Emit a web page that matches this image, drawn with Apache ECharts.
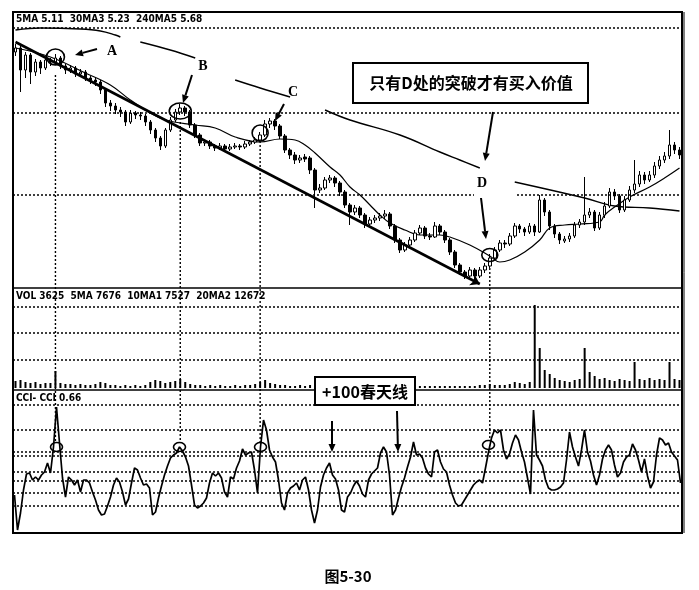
<!DOCTYPE html>
<html><head><meta charset="utf-8">
<script src="https://cdn.jsdelivr.net/npm/echarts/dist/echarts.min.js"></script>
<style>html,body{margin:0;padding:0;background:#fff}#c{width:699px;height:590px}</style>
</head><body><div id="c"></div><script>
// ---------- DATA ----------
const categories = Array.from({length: 134}, (_, i) => 'd' + (i + 1));
const cciCategories = Array.from({length: 223}, (_, i) => 'c' + (i + 1));
// price candles [open, close, low, high]
const ohlc = [
[236,240,232,244],[240,218,196,242],[218,233,210,236],[233,216,204,235],[216,226,212,229],
[226,220,214,228],[220,228,218,231],[228,226,222,230],[226,230,223,234],[230,222,219,232],
[222,218,214,224],[218,220,215,223],[220,214,211,222],[214,216,212,219],[216,210,207,218],
[210,208,204,212],[208,206,202,211],[206,198,194,208],[198,185,181,200],[185,182,177,188],
[182,178,174,185],[178,176,171,181],[176,166,162,178],[166,175,164,178],[175,173,169,177],
[173,172,168,176],[172,166,162,174],[166,158,154,168],[158,150,146,160],[150,142,138,152],
[142,158,140,160],[158,168,156,171],[168,176,166,179],[176,180,173,184],[180,176,172,182],
[176,163,160,178],[163,153,150,165],[153,145,142,155],[145,146,142,149],[146,142,139,148],
[142,140,137,144],[140,142,138,145],[142,139,136,144],[139,141,137,144],[141,142,139,145],
[142,141,138,144],[141,144,139,147],[144,146,142,148],[146,148,144,151],[148,153,146,156],
[153,164,151,168],[164,167,160,170],[167,162,158,169],[162,152,149,164],[152,138,135,154],
[138,133,129,140],[133,128,124,136],[128,130,125,133],[131,129,126,134],[130,118,114,132],
[118,98,80,120],[98,100,95,104],[100,108,98,111],[108,110,105,113],[110,105,101,112],
[105,96,92,107],[96,83,80,98],[83,76,63,85],[76,80,73,83],[80,73,70,82],
[73,64,60,75],[64,68,62,71],[68,70,65,73],[70,72,67,75],[72,74,69,78],
[74,62,59,76],[62,48,45,64],[48,38,35,50],[38,43,36,46],[43,48,41,51],
[48,55,46,58],[55,60,53,63],[60,52,49,62],[52,51,48,55],[51,62,50,66],
[62,56,53,64],[56,48,45,58],[48,36,33,50],[36,23,20,38],[23,16,13,25],
[16,12,9,18],[12,18,10,21],[18,12,9,20],[12,18,10,21],[18,22,15,25],
[22,30,20,34],[30,38,28,41],[38,45,36,48],[45,44,40,48],[44,52,42,55],
[52,62,50,65],[62,59,55,64],[59,56,52,61],[56,62,54,65],[62,56,52,64],
[56,88,55,93],[88,76,72,90],[76,62,58,78],[62,54,50,64],[54,48,44,56],
[47,49,45,52],[49,52,46,55],[52,63,50,66],[63,66,60,69],[66,73,63,111],
[73,76,70,80],[76,60,57,78],[60,73,58,76],[73,82,70,86],[82,96,80,100],
[96,92,88,99],[92,78,75,94],[78,88,76,92],[88,98,86,102],[98,104,95,128],
[104,113,101,117],[113,108,104,116],[108,113,106,117],[113,122,110,126],[122,128,119,132],
[128,132,125,136],[132,143,129,158],[143,138,134,146],[138,133,129,141]
];
// 30-day MA, read at selected bars [barIndex, value]
const ma30 = [[0,240],[7,231],[14,215],[19,203],[23,188],[27,175],[30,168],[36,163],[40,160],[44,151],
[49,146],[53,149],[56,148],[58,143],[60,135],[63,121],[65,113],[67,101],[69,93],[71,83],[73,73],
[75,65],[78,58],[81,53],[85,53],[87,51],[91,43],[95,32],[97,26],[99,28],[102,36],[105,48],[107,60],
[110,63],[113,64],[117,66],[118,73],[120,81],[123,91],[127,101],[130,110],[133,120]];
// 240-day MA, visible segments
const ma240Segments = [
 [[0,258],[5,260],[13,259],[17,257],[20,253],[21,251]],
 [[25,246],[31,238],[36,230]],
 [[44,208],[49,200],[55,191]],
 [[62,178],[67,168],[77,153],[85,136],[89,128],[93,120]],
 [[100,106],[114,90],[120,82],[127,80],[133,77]]
];
const trendLine = [[0,246],[93,4]];
const volume = [7,8,6,5,6,4,5,5,17,5,4,4,3,4,3,3,4,6,5,3,3,2,3,2,3,2,3,6,8,7,
5,6,7,9,6,4,3,3,2,3,2,3,2,2,3,2,3,3,4,6,8,5,4,3,3,2,2,3,2,3,
2,2,2,2,2,2,2,2,2,2,2,2,2,2,2,2,2,2,2,2,2,2,2,2,2,2,2,2,2,2,
2,2,2,3,3,4,3,3,3,4,6,5,4,6,83,40,18,14,10,8,7,6,8,9,40,16,12,9,10,8,
7,9,8,7,26,9,8,10,8,9,8,26,9,8];
const cci = [-14,-49,-32,-9,7,8,1,4,1,6,9,18,8,34,74,38,3,-16,4,1,
-4,1,-11,1,1,-2,-11,-19,-29,-34,-33,-25,-16,-4,3,-1,-11,-24,-18,-2,
13,11,3,-4,-3,-7,-34,-31,-17,-5,6,15,23,26,28,34,30,24,15,-4,
-24,-27,-25,-22,-17,-2,8,5,8,3,-11,-16,4,2,13,20,32,26,28,29,
11,-12,34,61,51,31,24,19,1,-22,-29,-12,-7,-5,-2,-9,1,4,-9,-29,
-42,-29,-6,6,13,18,6,2,-9,-29,-31,-16,-12,-5,0,-5,-13,-16,1,7,
10,13,28,34,29,6,-34,-29,-17,-6,3,14,24,39,26,27,23,13,7,4,
29,31,19,12,9,-4,-14,-22,-25,-24,-19,-14,-9,-4,-1,1,-2,13,29,43,
51,48,51,31,22,27,38,46,41,29,19,3,-13,71,26,21,15,1,-7,-9,
-9,-8,-6,-2,21,49,34,24,15,31,51,29,20,6,-4,6,22,31,36,31,
16,4,8,19,24,26,37,31,21,9,22,5,-7,-1,26,43,41,36,38,29,
25,21,-2];
const priceLevels = [260, 175, 93];
const volLevels = [81, 55, 28];
const cciLevels = [76, 51, 29, 25, 9, 0, -12, -25];
const headPrice = '5MA 5.11  30MA3 5.23  240MA5 5.68';
const headVol = 'VOL 3625  5MA 7676  10MA1 7527  20MA2 12672';
const headCci = 'CCI- CCI 0.66';
const noteMain = '只有D处的突破才有买入价值';
const noteCci = '+100春天线';
const caption = '图5-30';

// ---------- CHART ----------
const chart = echarts.init(document.getElementById('c'), null, {renderer: 'canvas'});
const dotted = {type: [2, 2], width: 1.5, color: '#000'};
const mlBase = {silent: true, symbol: ['none', 'none'], label: {show: false}, lineStyle: dotted, animation: false};
const series = [
 {type: 'candlestick', xAxisIndex: 0, yAxisIndex: 0, data: ohlc, barWidth: 3,
  itemStyle: {color: '#fff', color0: '#000', borderColor: '#000', borderColor0: '#000', borderWidth: 1},
  markLine: Object.assign({}, mlBase, {data: priceLevels.map(v => ({yAxis: v})).concat([
    [{coord: trendLine[0], symbol: 'none', lineStyle: {type: 'solid', width: 2.6, color: '#000'}},
     {coord: trendLine[1], symbol: 'arrow', symbolSize: 9}]
  ])}), z: 3},
 {type: 'line', xAxisIndex: 0, yAxisIndex: 0, data: ma30, smooth: 0.4, showSymbol: false,
  lineStyle: {color: '#000', width: 1.2}, z: 2},
];
ma240Segments.forEach(seg => series.push({type: 'line', xAxisIndex: 0, yAxisIndex: 0, data: seg, smooth: 0.4,
  showSymbol: false, lineStyle: {color: '#000', width: 1.4}, z: 2}));
series.push({type: 'bar', xAxisIndex: 1, yAxisIndex: 1, data: volume, barWidth: 2,
  itemStyle: {color: '#000'}, markLine: Object.assign({}, mlBase, {data: volLevels.map(v => ({yAxis: v}))})});
series.push({type: 'line', xAxisIndex: 2, yAxisIndex: 2, data: cci, showSymbol: false,
  lineStyle: {color: '#000', width: 1.7}, markLine: Object.assign({}, mlBase, {data: cciLevels.map(v => ({yAxis: v}))})});

const hiddenX = (gi, data) => ({type: 'category', gridIndex: gi, data: data, boundaryGap: true, show: false});
chart.setOption({
 animation: false,
 backgroundColor: '#fff',
 grid: [
  {left: 13, top: 12, width: 669, height: 276},
  {left: 13, top: 288, width: 669, height: 100},
  {left: 13, top: 391, width: 669, height: 142}
 ],
 xAxis: [hiddenX(0, categories), hiddenX(1, categories), hiddenX(2, cciCategories)],
 yAxis: [
  {type: 'value', gridIndex: 0, min: 0, max: 276, show: false, splitLine: {show: false}},
  {type: 'value', gridIndex: 1, min: 0, max: 100, show: false, splitLine: {show: false}},
  {type: 'value', gridIndex: 2, min: -52, max: 90, show: false, splitLine: {show: false}}
 ],
 series: series
});

// ---------- ANNOTATIONS ----------
const P = (i, v) => chart.convertToPixel({xAxisIndex: 0, yAxisIndex: 0}, [i, v]);
const C = (j, v) => chart.convertToPixel({xAxisIndex: 2, yAxisIndex: 2}, [j, v]);
const g = [];
const txt = (text, x, y, font, align, extra) => g.push({type: 'text', z: 30, style: Object.assign({
  text: text, x: x, y: y, font: font, fill: '#000', align: align || 'left', verticalAlign: 'middle',
  textAlign: align || 'left', textVerticalAlign: 'middle'}, extra || {})});
const line = (x1, y1, x2, y2, w, dash) => g.push({type: 'line', z: 25, shape: {x1, y1, x2, y2},
  style: {stroke: '#000', lineWidth: w, lineDash: dash || null}});
const arrow = (x1, y1, x2, y2) => {
  const dx = x2 - x1, dy = y2 - y1, L = Math.hypot(dx, dy), ux = dx / L, uy = dy / L;
  const hl = 8, hw = 3.5, bx = x2 - ux * hl, by = y2 - uy * hl;
  line(x1, y1, bx, by, 2);
  g.push({type: 'polygon', z: 26, shape: {points: [[x2, y2], [bx - uy * hw, by + ux * hw], [bx + uy * hw, by - ux * hw]]},
    style: {fill: '#000'}});
};

// frame
g.push({type: 'rect', z: 20, shape: {x: 13, y: 12, width: 669, height: 521}, style: {fill: null, stroke: '#000', lineWidth: 2}});
line(684, 12, 684, 533, 1);
line(13, 288, 682, 288, 1.5);
line(13, 390, 682, 390, 1.5);

// headers
const hf = 'bold 10px "Liberation Sans Narrow", "DejaVu Sans Condensed", Arial, sans-serif';
txt(headPrice, 16, 19, hf);
txt(headVol, 16, 296, hf);
txt(headCci, 16, 398, hf);

// event rings on price and CCI, joined by dotted connectors
const priceRings = [[8, 231, 9, 8, 213], [33, 177, 11, 8, 166], [49, 155, 8, 8, 147], [95, 33, 8, 6.5, 20]];
const cciRings = [[14, 34], [55, 34], [82, 34], [158, 36]];
priceRings.forEach((r, k) => {
  const p = P(r[0], r[1]);
  g.push({type: 'ellipse', z: 27, shape: {cx: p[0], cy: p[1], rx: r[2], ry: r[3]}, style: {fill: null, stroke: '#000', lineWidth: 1.6}});
  const s = P(r[0], r[4]);
  const c = C(cciRings[k][0], cciRings[k][1]);
  line(p[0], s[1], p[0], c[1] - 5, 1.4, [2, 2]);
  g.push({type: 'ellipse', z: 27, shape: {cx: c[0], cy: c[1], rx: 6, ry: 4.5}, style: {fill: null, stroke: '#000', lineWidth: 1.6}});
});

// gap around D label
g.push({type: 'rect', z: 22, shape: {x: 474, y: 191, width: 41, height: 8}, style: {fill: '#fff'}});
// letter labels
const lf = 'bold 14px "Liberation Serif", "DejaVu Serif", serif';
[['A', 112, 51], ['B', 203, 66], ['C', 293, 92], ['D', 482, 183]].forEach(l => txt(l[0], l[1], l[2], lf, 'center'));
// arrows
[[97, 49, 75, 55], [192, 75, 183, 103], [284, 104, 275, 121], [493, 112, 485, 161], [481, 198, 486, 239],
 [332, 421, 332, 452], [397, 411, 398, 452]].forEach(a => arrow(a[0], a[1], a[2], a[3]));

// note boxes
g.push({type: 'rect', z: 28, shape: {x: 353, y: 63, width: 235, height: 40}, style: {fill: '#fff', stroke: '#000', lineWidth: 2}});
txt(noteMain, 471, 83, 'bold 16px "Noto Sans CJK SC", sans-serif', 'center');
g.push({type: 'rect', z: 28, shape: {x: 315, y: 377, width: 100, height: 28}, style: {fill: '#fff', stroke: '#000', lineWidth: 2}});
txt(noteCci, 365, 392, 'bold 16px "Noto Sans CJK SC", sans-serif', 'center');

// caption
txt(caption, 348, 576, 'bold 15px "Noto Sans CJK SC", sans-serif', 'center');

chart.setOption({graphic: g});
</script></body></html>
